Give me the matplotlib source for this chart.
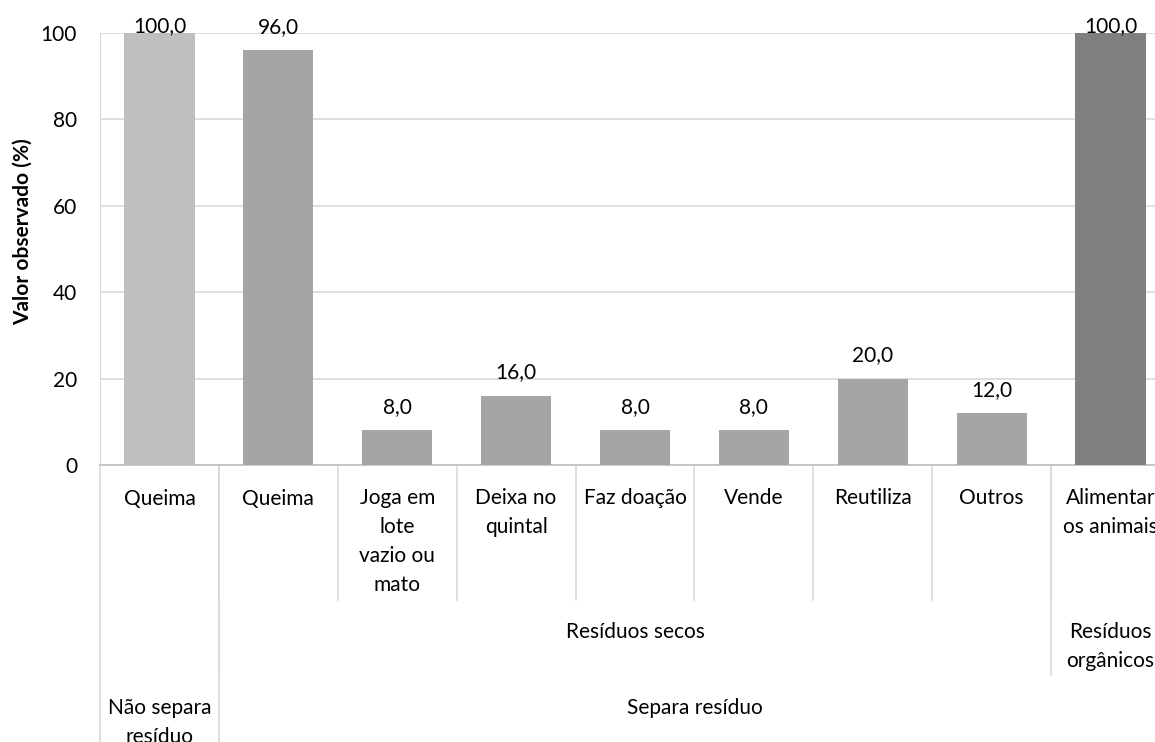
import matplotlib.pyplot as plt
import matplotlib.transforms as mtransforms

plt.rcParams['font.family'] = ['Lato', 'DejaVu Sans']

# data
categories = ['Queima', 'Queima', 'Joga em\nlote\nvazio ou\nmato', 'Deixa no\nquintal',
              'Faz doação', 'Vende', 'Reutiliza', 'Outros', 'Alimentar\nos animais']
values = [100.0, 96.0, 8.0, 16.0, 8.0, 8.0, 20.0, 12.0, 100.0]
bar_colors = ['#BFBFBF'] + ['#A5A5A5'] * 7 + ['#7F7F7F']
# level 2 groups: (label, first index, last index)
level2 = [('', 0, 0), ('Resíduos secos', 1, 7), ('Resíduos\norgânicos', 8, 8)]
# level 3 groups
level3 = [('Não separa\nresíduo', 0, 0), ('Separa resíduo', 1, 8)]

FS = 15
LS = 1.55

W, H = 1155, 742
fig = plt.figure(figsize=(W / 100, H / 100), dpi=100)
x0, x1, ytop, ybot = 100, 1170, 33, 465
ax = fig.add_axes([x0 / W, (H - ybot) / H, (x1 - x0) / W, (ybot - ytop) / H])
axh = ybot - ytop

xs = list(range(len(values)))
bars = ax.bar(xs, values, width=0.59, color=bar_colors, zorder=3)
for b, v in zip(bars, values):
    # labels of full-height bars are pushed inside the plot area, like Excel does
    off = 0.7 if v >= 100 else 12.5
    ax.annotate(f'{v:.1f}'.replace('.', ','), (b.get_x() + b.get_width() / 2, v),
                xytext=(0, off), textcoords='offset points', ha='center', va='baseline',
                fontsize=FS, color='#000000', annotation_clip=False)

ax.set_xlim(-0.5, len(values) - 0.5)
ax.set_ylim(0, 100)
ax.set_yticks([0, 20, 40, 60, 80, 100])
ax.tick_params(axis='y', length=0, labelsize=FS, pad=16.5)
ax.set_xticks([])
ax.yaxis.grid(True, color='#D9D9D9', linewidth=1.2, zorder=0)
for s in ['top', 'right']:
    ax.spines[s].set_visible(False)
ax.spines['left'].set_color('#D9D9D9')
ax.spines['bottom'].set_color('#BFBFBF')
ax.spines['bottom'].set_linewidth(1.2)
ax.set_ylabel('Valor observado (%)', fontsize=FS, fontweight='bold')
ax.yaxis.set_label_coords(-0.0626, 0.54)

trans = mtransforms.blended_transform_factory(ax.transData, ax.transAxes)


def below(px):
    # pixels below the x axis -> axes fraction
    return -px / axh


def vline(xb, depth):
    ax.plot([xb, xb], [0, below(depth)], transform=trans, color='#D9D9D9',
            linewidth=1.2, clip_on=False)


def label(x, px, text):
    ax.text(x, below(px), text, transform=trans, ha='center', va='top',
            fontsize=FS, linespacing=LS, clip_on=False)


# level 1 labels
for i, lab in enumerate(categories):
    label(i, 23.5, lab)
for i in range(1, len(categories)):
    vline(i - 0.5, 135)

# level 2
for lab, a, b in level2:
    if lab:
        label((a + b) / 2, 157.5, lab)
for lab, a, b in level2:
    vline(b + 0.5, 210)

# level 3
for lab, a, b in level3:
    label((a + b) / 2, 233.5, lab)
vline(-0.5, 300)
for lab, a, b in level3:
    vline(b + 0.5, 300)

fig.savefig('out.png', dpi=100)
